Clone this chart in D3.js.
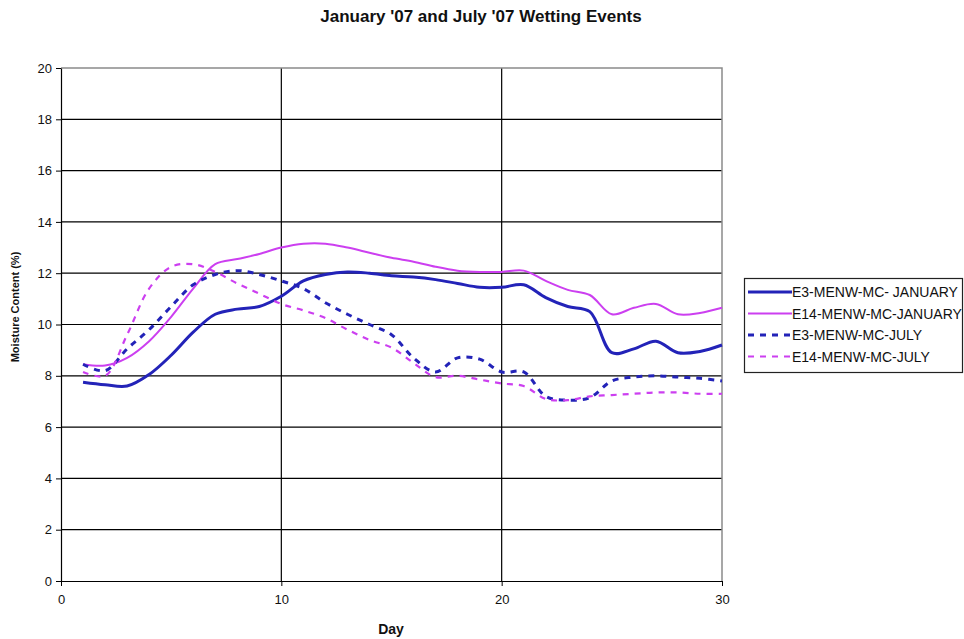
<!DOCTYPE html>
<html><head><meta charset="utf-8">
<script src="https://cdn.jsdelivr.net/npm/d3@7"></script>
<style>body{margin:0;background:#fff}svg{display:block}</style>
</head><body>
<script>
const days = d3.range(1, 31);
const e3Jan  = [7.75,7.65,7.6,8.05,8.8,9.7,10.4,10.6,10.7,11.1,11.7,11.95,12.05,12.0,11.9,11.85,11.75,11.6,11.45,11.45,11.55,11.05,10.7,10.5,8.9,9.05,9.35,8.9,8.95,9.2];
const e14Jan = [8.45,8.4,8.7,9.35,10.3,11.4,12.35,12.55,12.75,13.0,13.15,13.15,13.0,12.8,12.6,12.45,12.25,12.1,12.05,12.05,12.1,11.7,11.35,11.15,10.4,10.65,10.8,10.4,10.45,10.65];
const e3Jul  = [8.45,8.2,9.05,9.8,10.7,11.55,11.95,12.1,11.95,11.7,11.4,10.85,10.4,10.0,9.6,8.7,8.15,8.7,8.65,8.15,8.15,7.2,7.05,7.15,7.8,7.95,8.0,7.95,7.9,7.8];
const e14Jul = [8.15,8.0,9.6,11.4,12.25,12.35,12.05,11.6,11.2,10.8,10.55,10.25,9.8,9.4,9.1,8.5,7.95,8.0,7.85,7.7,7.6,7.1,7.05,7.2,7.25,7.3,7.35,7.35,7.3,7.3];
const seriesNames = ["E3-MENW-MC- JANUARY","E14-MENW-MC-JANUARY","E3-MENW-MC-JULY","E14-MENW-MC-JULY"];
const yTicks = [0,2,4,6,8,10,12,14,16,18,20];
const xTicks = [0,10,20,30];

const blue = "#2323b8", mag = "#cc3ff0";
const series = [
  {name: seriesNames[0], values: e3Jan,  color: blue, w: 3,   dash: null},
  {name: seriesNames[1], values: e14Jan, color: mag,  w: 2,   dash: null},
  {name: seriesNames[2], values: e3Jul,  color: blue, w: 3,   dash: "6,6"},
  {name: seriesNames[3], values: e14Jul, color: mag,  w: 2.2, dash: "6,6"}
];

const W = 964, H = 639;
const FF = "'Liberation Sans', Arial, sans-serif";
const svg = d3.select("body").append("svg").attr("width", W).attr("height", H)
  .style("font-family", FF);

const x = d3.scaleLinear().domain([0, 30]).range([61, 722]);
const y = d3.scaleLinear().domain([0, 20]).range([581, 68]);

// gridlines
svg.append("g").selectAll("line").data(yTicks.filter(t => t > 0 && t < 20)).join("line")
  .attr("x1", x(0)).attr("x2", x(30)).attr("y1", d => y(d)).attr("y2", d => y(d))
  .attr("stroke", "#000").attr("stroke-width", 1.2);
svg.append("g").selectAll("line").data([10, 20]).join("line")
  .attr("x1", d => x(d)).attr("x2", d => x(d)).attr("y1", y(0)).attr("y2", y(20))
  .attr("stroke", "#000").attr("stroke-width", 1.2);
// top and right border (gray)
svg.append("path").attr("d", `M${x(0)},${y(20)}H${x(30)}V${y(0)}`)
  .attr("fill", "none").attr("stroke", "#8a8a8a").attr("stroke-width", 1.5);

// axes
const yAxis = d3.axisLeft(y).tickValues(yTicks).tickSize(5).tickSizeOuter(0);
const gy = svg.append("g").attr("transform", `translate(${x(0)},0)`).call(yAxis);
gy.select(".domain").attr("stroke", "#000").attr("stroke-width", 1.2);
gy.selectAll(".tick line").attr("stroke", "#000");
gy.selectAll(".tick text").attr("font-size", 13).attr("fill", "#111").attr("x", -9)
  .style("font-family", FF);

const xAxis = d3.axisBottom(x).tickValues(xTicks).tickSize(5).tickSizeOuter(0);
const gx = svg.append("g").attr("transform", `translate(0,${y(0)})`).call(xAxis);
gx.select(".domain").attr("stroke", "#000").attr("stroke-width", 1.2);
gx.selectAll(".tick line").attr("stroke", "#000");
gx.selectAll(".tick text").attr("font-size", 13).attr("fill", "#111").attr("y", 14)
  .style("font-family", FF);

// lines
const line = d3.line().x((d, i) => x(days[i])).y(d => y(d)).curve(d3.curveCatmullRom.alpha(0.5));
svg.append("g").selectAll("path").data(series).join("path")
  .attr("d", d => line(d.values))
  .attr("fill", "none").attr("stroke", d => d.color).attr("stroke-width", d => d.w)
  .attr("stroke-dasharray", d => d.dash).attr("stroke-linejoin", "round");

// titles
svg.append("text").attr("x", 481).attr("y", 22).attr("text-anchor", "middle")
  .attr("font-size", 17).attr("font-weight", "bold").attr("fill", "#111")
  .text("January '07 and July '07 Wetting Events");
svg.append("text").attr("x", 391).attr("y", 634).attr("text-anchor", "middle")
  .attr("font-size", 14).attr("font-weight", "bold").attr("fill", "#111").text("Day");
svg.append("text").attr("transform", `translate(19,307) rotate(-90)`).attr("text-anchor", "middle")
  .attr("font-size", 11).attr("font-weight", "bold").attr("fill", "#111").text("Moisture Content (%)");

// legend
const lg = svg.append("g");
lg.append("rect").attr("x", 744.5).attr("y", 278.5).attr("width", 218).attr("height", 94)
  .attr("fill", "#fff").attr("stroke", "#222").attr("stroke-width", 1.2);
const li = lg.selectAll("g.item").data(series).join("g").attr("class", "item")
  .attr("transform", (d, i) => `translate(0,${292 + i * 21.5})`);
li.append("line").attr("x1", 748).attr("x2", 792).attr("y1", 0).attr("y2", 0)
  .attr("stroke", d => d.color).attr("stroke-width", d => d.w).attr("stroke-dasharray", d => d.dash);
li.append("text").attr("x", 792).attr("y", 5).attr("font-size", 14).attr("fill", "#111").text(d => d.name);
</script>
</body></html>
